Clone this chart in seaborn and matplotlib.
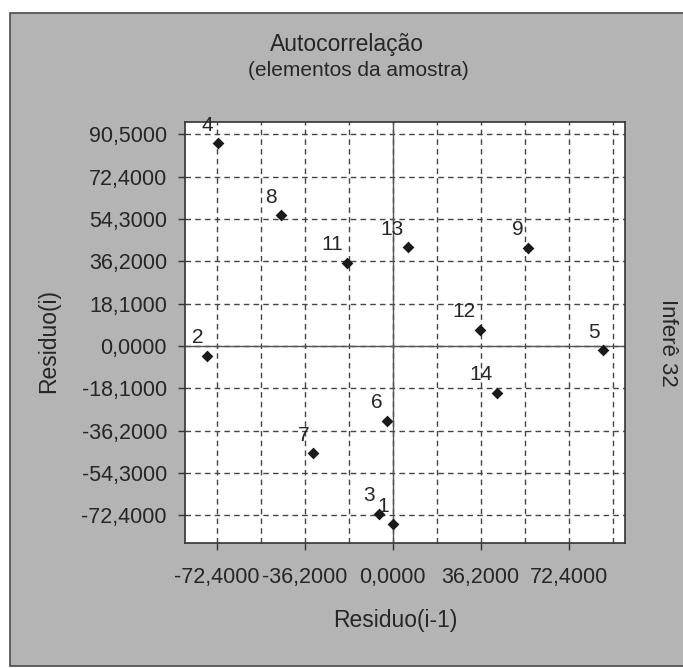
import matplotlib
matplotlib.use("Agg")
import matplotlib.pyplot as plt
import seaborn as sns
import pandas as pd
from matplotlib.patches import Rectangle
from matplotlib.ticker import FixedLocator, FixedFormatter

# ---- data ----
point_labels = ["1", "2", "3", "4", "5", "6", "7", "8", "9", "11", "12", "13", "14"]
residuo_prev = [0.3, -76.2, -5.5, -72.0, 86.7, -2.5, -32.6, -45.9, 55.5, -18.9, 35.9, 6.2, 42.8]
residuo_cur = [-76.2, -4.3, -71.7, 86.8, -1.9, -32.1, -45.8, 55.9, 41.9, 35.6, 7.0, 42.3, -20.0]
y_ticks = [-72.4, -54.3, -36.2, -18.1, 0.0, 18.1, 36.2, 54.3, 72.4, 90.5]
x_ticks_major = [-72.4, -36.2, 0.0, 36.2, 72.4]
x_ticks_minor = [-54.3, -18.1, 18.1, 54.3, 90.5]
title = "Autocorrelação"
subtitle = "(elementos da amostra)"
x_label = "Residuo(i-1)"
y_label = "Residuo(i)"
side_text = "Inferê 32"

df = pd.DataFrame({"x": residuo_prev, "y": residuo_cur, "label": point_labels})

sns.set_theme(style="white")
plt.rcParams["axes.unicode_minus"] = False
plt.rcParams["font.family"] = ["Liberation Sans", "DejaVu Sans"]

TXT = "#262626"
W, H = 683, 668
fig = plt.figure(figsize=(W / 100, H / 100), dpi=100)
fig.patch.set_facecolor("white")

# gray panel
panel = Rectangle((9.5 / W, 2 / H), 1.2, (H - 13 - 2) / H, transform=fig.transFigure,
                  facecolor="#b4b4b4", edgecolor="#4a4a4a", lw=1.2, zorder=-10)
fig.patches.append(panel)

ax = fig.add_axes([185 / W, 1 - 543 / H, (625 - 185) / W, (543 - 122) / H])
ax.set_zorder(5)
ax.set_facecolor("white")

sns.scatterplot(data=df, x="x", y="y", marker="D", s=36, color="#1a1a1a",
                edgecolor="#1a1a1a", linewidth=0, ax=ax, zorder=5)

for _, r in df.iterrows():
    ax.annotate(r["label"], (r["x"], r["y"]), xytext=(-4, 18), textcoords="offset pixels",
                ha="right", va="center", fontsize=15, color=TXT, zorder=6)

ax.set_xlim(-85.4, 95.6)
ax.set_ylim(-84.3, 95.8)

fmt = lambda v: f"{v:.4f}".replace(".", ",")
ax.xaxis.set_major_locator(FixedLocator(x_ticks_major))
ax.xaxis.set_major_formatter(FixedFormatter([fmt(v) for v in x_ticks_major]))
ax.xaxis.set_minor_locator(FixedLocator(x_ticks_minor))
ax.yaxis.set_major_locator(FixedLocator(y_ticks))
ax.yaxis.set_major_formatter(FixedFormatter([fmt(v) for v in y_ticks]))

ax.tick_params(axis="both", which="major", direction="out", length=5, width=1,
               color="#333333", labelsize=15.5, labelcolor=TXT, pad=8,
               bottom=True, left=True)
ax.tick_params(axis="x", which="minor", length=0, bottom=False)
ax.tick_params(axis="x", which="major", pad=12)

grid_kw = dict(color="#444444", linestyle=(0, (4, 3)), linewidth=1.0)
ax.grid(True, which="both", axis="x", **grid_kw)
ax.grid(True, which="major", axis="y", **grid_kw)
ax.set_axisbelow(True)

ax.axhline(0, color="#555555", lw=1.0, zorder=2)
ax.axvline(0, color="#555555", lw=1.0, zorder=2)

for sp in ax.spines.values():
    sp.set_visible(True)
    sp.set_color("#333333")
    sp.set_linewidth(1.2)

ax.set_xlabel("")
ax.set_ylabel("")

fig.text(347 / W, 1 - 44 / H, title, ha="center", va="center", fontsize=16.5, color=TXT)
fig.text(358 / W, 1 - 70 / H, subtitle, ha="center", va="center", fontsize=15, color=TXT)
fig.text(395 / W, 1 - 621 / H, x_label, ha="center", va="center", fontsize=16.5, color=TXT)
fig.text(49 / W, 1 - 341 / H, y_label, ha="center", va="center", fontsize=16.5,
         color=TXT, rotation=90)
fig.text(667 / W, 1 - 343 / H, side_text, ha="center", va="center", fontsize=16,
         color=TXT, rotation=-90)

fig.savefig("out.png", dpi=100, facecolor=fig.get_facecolor())
